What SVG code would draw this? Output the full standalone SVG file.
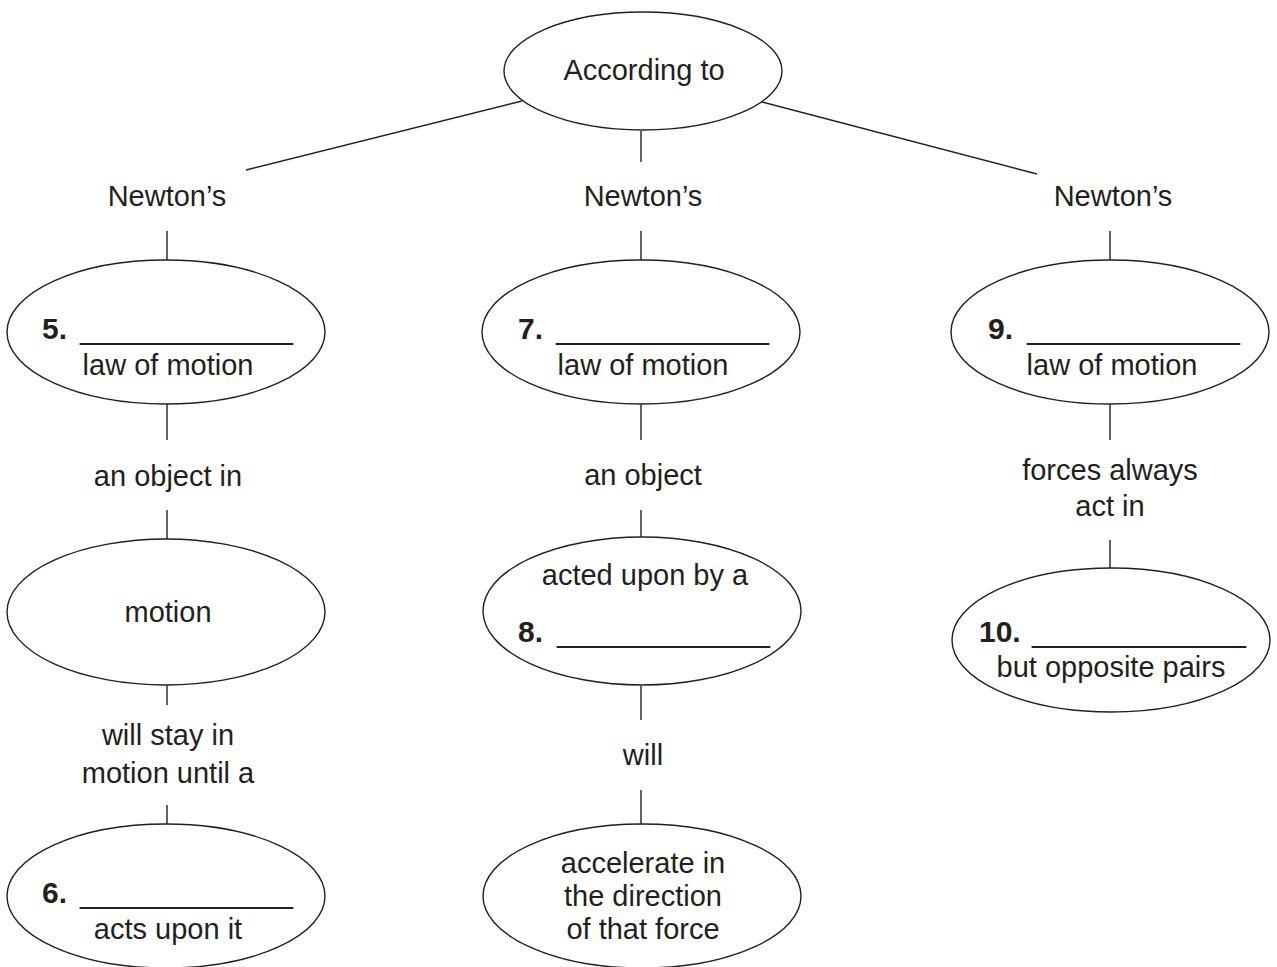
<svg xmlns="http://www.w3.org/2000/svg" width="1277" height="967" viewBox="0 0 1277 967">
<style>
.n{fill:#fff;stroke:#231f20;stroke-width:1.4}
.c line{stroke:#231f20;stroke-width:1.4}
text{font-family:"Liberation Sans",Arial,sans-serif;font-size:29px;fill:#231f20}
.m{text-anchor:middle}
.b{font-weight:bold;font-size:30px}
</style>
<rect width="1277" height="967" fill="#fff"/>
<g class="c" id="connectors">
<line x1="522" y1="101" x2="246" y2="170"/>
<line x1="762" y1="102" x2="1037" y2="174"/>
<line x1="641" y1="131" x2="641" y2="162"/>
<line x1="167" y1="231" x2="167" y2="260"/>
<line x1="641" y1="231" x2="641" y2="260"/>
<line x1="1110" y1="231" x2="1110" y2="260"/>
<line x1="167" y1="404" x2="167" y2="440"/>
<line x1="167" y1="510" x2="167" y2="540"/>
<line x1="167" y1="685" x2="167" y2="705"/>
<line x1="167" y1="805" x2="167" y2="825"/>
<line x1="641" y1="404" x2="641" y2="440"/>
<line x1="641" y1="510" x2="641" y2="538"/>
<line x1="641" y1="686" x2="641" y2="720"/>
<line x1="641" y1="790" x2="641" y2="825"/>
<line x1="1110" y1="404" x2="1110" y2="440"/>
<line x1="1110" y1="540" x2="1110" y2="568"/>
</g>
<g id="according"><ellipse class="n" cx="643" cy="71" rx="139" ry="59"/><text class="m" x="644" y="80">According to</text></g>
<g id="lbl-newton1"><text class="m" x="167" y="206">Newton’s</text></g>
<g id="lbl-newton2"><text class="m" x="643" y="206">Newton’s</text></g>
<g id="lbl-newton3"><text class="m" x="1113" y="206">Newton’s</text></g>
<g id="n5"><ellipse class="n" cx="166" cy="332" rx="159" ry="72"/><text class="b" x="42" y="339">5.</text><text x="80" y="339" textLength="213" lengthAdjust="spacingAndGlyphs">_____________</text><text class="m" x="168" y="375">law of motion</text></g>
<g id="n7"><ellipse class="n" cx="641" cy="332" rx="159" ry="72"/><text class="b" x="518" y="339">7.</text><text x="556" y="339" textLength="213" lengthAdjust="spacingAndGlyphs">_____________</text><text class="m" x="643" y="375">law of motion</text></g>
<g id="n9"><ellipse class="n" cx="1110" cy="332" rx="159" ry="72"/><text class="b" x="988" y="339">9.</text><text x="1027" y="339" textLength="213" lengthAdjust="spacingAndGlyphs">_____________</text><text class="m" x="1112" y="375">law of motion</text></g>
<g id="lbl-object-in"><text class="m" x="168" y="486">an object in</text></g>
<g id="lbl-object"><text class="m" x="643" y="485">an object</text></g>
<g id="lbl-forces"><text class="m" x="1110" y="480">forces always</text><text class="m" x="1110" y="516">act in</text></g>
<g id="motion"><ellipse class="n" cx="166" cy="612" rx="159" ry="73"/><text class="m" x="168" y="622">motion</text></g>
<g id="n8"><ellipse class="n" cx="642" cy="611" rx="159" ry="74"/><text class="m" x="645" y="585">acted upon by a</text><text class="b" x="518" y="642">8.</text><text x="557" y="642" textLength="213" lengthAdjust="spacingAndGlyphs">_____________</text></g>
<g id="n10"><ellipse class="n" cx="1111" cy="640" rx="159" ry="72"/><text class="b" x="979" y="642">10.</text><text x="1032" y="642" textLength="214" lengthAdjust="spacingAndGlyphs">_____________</text><text class="m" x="1111" y="677">but opposite pairs</text></g>
<g id="lbl-stay"><text class="m" x="168" y="745">will stay in</text><text class="m" x="168" y="783">motion until a</text></g>
<g id="lbl-will"><text class="m" x="643" y="765">will</text></g>
<g id="n6"><ellipse class="n" cx="166" cy="896" rx="159" ry="72"/><text class="b" x="42" y="903">6.</text><text x="80" y="903" textLength="213" lengthAdjust="spacingAndGlyphs">_____________</text><text class="m" x="168" y="939">acts upon it</text></g>
<g id="accel"><ellipse class="n" cx="642" cy="896" rx="159" ry="72"/><text class="m" x="643" y="873">accelerate in</text><text class="m" x="643" y="906">the direction</text><text class="m" x="643" y="939">of that force</text></g>
</svg>
